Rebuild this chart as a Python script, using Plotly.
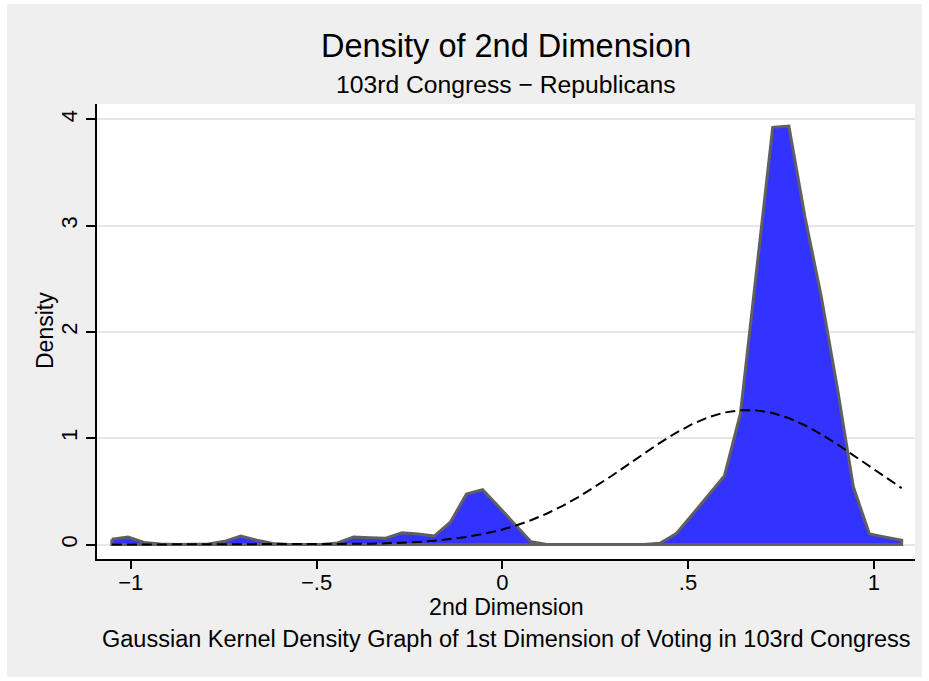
import plotly.graph_objects as go

# Evaluation points of the kernel density (2nd dimension)
x_points = [-1.0510, -1.0076, -0.9642, -0.9208, -0.8774, -0.8341, -0.7907, -0.7473, -0.7039, -0.6605,
            -0.6171, -0.5737, -0.5303, -0.4869, -0.4435, -0.4002, -0.3568, -0.3134, -0.2700, -0.2266,
            -0.1832, -0.1398, -0.0964, -0.0530, -0.0096, 0.0338, 0.0771, 0.1205, 0.1639, 0.2073,
            0.2507, 0.2941, 0.3375, 0.3809, 0.4243, 0.4677, 0.5110, 0.5544, 0.5978, 0.6412,
            0.6846, 0.7280, 0.7714, 0.8148, 0.8582, 0.9016, 0.9449, 0.9883, 1.0317, 1.0751]

# Kernel density estimate
kdensity = [0.05, 0.07, 0.02, 0.005, 0.0, 0.0, 0.005, 0.03, 0.08, 0.04,
            0.01, 0.0, 0.0, 0.0, 0.015, 0.07, 0.065, 0.06, 0.11, 0.10,
            0.08, 0.21, 0.475, 0.515, 0.355, 0.19, 0.027, 0.0, 0.0, 0.0,
            0.0, 0.0, 0.0, 0.0, 0.011, 0.10, 0.28, 0.46, 0.644, 1.234,
            2.60, 3.925, 3.937, 3.08, 2.34, 1.48, 0.544, 0.10, 0.07, 0.04]

# Normal density overlay
normal_density = [0.0, 0.0, 0.0, 0.0, 0.0, 0.0, 0.0, 0.0, 0.0, 0.0,
                  0.0, 0.0, 0.001, 0.002, 0.003, 0.004, 0.007, 0.011, 0.016, 0.024,
                  0.035, 0.050, 0.071, 0.098, 0.132, 0.175, 0.229, 0.292, 0.366, 0.451,
                  0.544, 0.645, 0.750, 0.855, 0.957, 1.051, 1.132, 1.197, 1.242, 1.264,
                  1.262, 1.237, 1.189, 1.122, 1.038, 0.943, 0.840, 0.735, 0.630, 0.531]

x_tickvals = [-1, -0.5, 0, 0.5, 1]
x_ticktext = ["\u22121", "\u2212.5", "0", ".5", "1"]
y_tickvals = [0, 1, 2, 3, 4]
y_ticktext = ["0", "1", "2", "3", "4"]

FONT = "Liberation Sans, Arial, Helvetica, sans-serif"

# closed polygon for the area (outline drawn around the baseline too)
poly_x = x_points + [x_points[-1], x_points[0], x_points[0]]
poly_y = kdensity + [0, 0, kdensity[0]]

fig = go.Figure()
fig.add_trace(go.Scatter(
    x=poly_x, y=poly_y, mode="lines", fill="toself",
    fillcolor="#3333ff", line=dict(color="#606060", width=3),
    hoverinfo="skip", showlegend=False))
fig.add_trace(go.Scatter(
    x=x_points, y=normal_density, mode="lines",
    line=dict(color="black", width=2, dash="10px,5px"),
    hoverinfo="skip", showlegend=False))

L, R, T, B = 97, 14, 104, 122
W, H = 929, 681
pw = W - L - R
ph = H - T - B

def px_x(px):
    return (px - L) / pw

def px_y(py):
    return (H - B - py) / ph

fig.update_layout(
    width=W, height=H, autosize=False,
    margin=dict(l=L, r=R, t=T, b=B, pad=0),
    paper_bgcolor="white", plot_bgcolor="white",
    font=dict(family=FONT, color="black"),
    showlegend=False,
    xaxis=dict(range=[-1.091, 1.111], showline=True, linecolor="black", linewidth=1.5,
               ticks="outside", ticklen=8, tickwidth=1.5, tickcolor="black",
               tickvals=x_tickvals, ticktext=x_ticktext, ticklabelstandoff=-5,
               tickfont=dict(size=22, family=FONT),
               showgrid=False, zeroline=False, fixedrange=True),
    yaxis=dict(range=[-0.136, 4.144], showline=True, linecolor="black", linewidth=1.5,
               ticks="outside", ticklen=9, tickwidth=1.5, tickcolor="black",
               tickvals=y_tickvals, ticktext=y_ticktext, tickangle=-90,
               tickfont=dict(size=22, family=FONT),
               showgrid=True, gridcolor="#e6e6e6", gridwidth=1.5,
               zeroline=False, fixedrange=True),
    shapes=[dict(type="rect", xref="paper", yref="paper", layer="below",
                 x0=px_x(7), x1=px_x(922), y0=px_y(677), y1=px_y(4),
                 fillcolor="#efefef", line=dict(width=0)),
            dict(type="rect", xref="paper", yref="paper", layer="below",
                 x0=0, x1=1, y0=0, y1=1,
                 fillcolor="white", line=dict(width=0))],
    annotations=[
        dict(text="Density of 2nd Dimension", x=0.5, y=px_y(46), xref="paper", yref="paper",
             xanchor="center", yanchor="middle", showarrow=False, font=dict(size=32.5)),
        dict(text="103rd Congress \u2212 Republicans", x=0.5, y=px_y(85), xref="paper", yref="paper",
             xanchor="center", yanchor="middle", showarrow=False, font=dict(size=24.7)),
        dict(text="2nd Dimension", x=0.5, y=px_y(607), xref="paper", yref="paper",
             xanchor="center", yanchor="middle", showarrow=False, font=dict(size=23.2)),
        dict(text="Gaussian Kernel Density Graph of 1st Dimension of Voting in 103rd Congress",
             x=0.5, y=px_y(639), xref="paper", yref="paper",
             xanchor="center", yanchor="middle", showarrow=False, font=dict(size=23.5)),
        dict(text="Density", x=px_x(45), y=px_y(331), xref="paper", yref="paper",
             xanchor="center", yanchor="middle", textangle=-90, showarrow=False,
             font=dict(size=23)),
    ],
)

fig.write_html("out.html",
               config={"displayModeBar": False},
               post_script="document.body.style.margin='0';document.body.style.padding='0';")
